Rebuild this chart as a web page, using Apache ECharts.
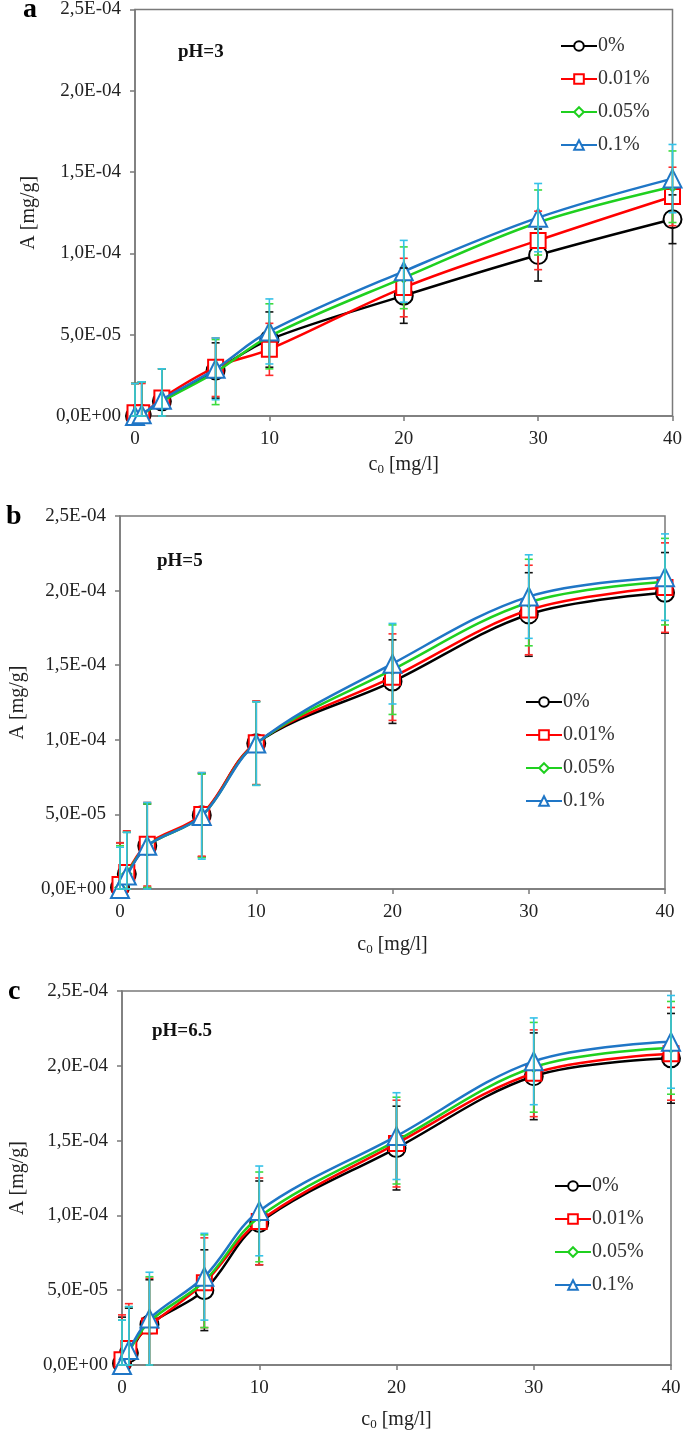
<!DOCTYPE html>
<html><head><meta charset="utf-8">
<script src="https://cdn.jsdelivr.net/npm/echarts@6/dist/echarts.min.js"></script>
<style>html,body{margin:0;padding:0;background:#fff}#c{width:685px;height:1432px}</style>
</head><body><div id="c"></div>
<script>
// ---------------- DATA ----------------
const c0 = [0, 0.5, 2, 6, 10, 20, 30, 40];               // initial concentration [mg/l]
const seriesNames = ['0%', '0.01%', '0.05%', '0.1%'];
const xTicks = [0, 10, 20, 30, 40];
const yTicks = [0, 5e-5, 1e-4, 1.5e-4, 2e-4, 2.5e-4];

// pH = 3
const pH3_0   = [0.00e-4, 0.01e-4, 0.09e-4, 0.28e-4, 0.47e-4, 0.74e-4, 0.99e-4, 1.21e-4];
const pH3_001 = [0.02e-4, 0.02e-4, 0.11e-4, 0.30e-4, 0.41e-4, 0.79e-4, 1.08e-4, 1.35e-4];
const pH3_005 = [0.00e-4, 0.01e-4, 0.09e-4, 0.27e-4, 0.49e-4, 0.85e-4, 1.19e-4, 1.41e-4];
const pH3_01  = [0.00e-4, 0.01e-4, 0.10e-4, 0.29e-4, 0.52e-4, 0.89e-4, 1.22e-4, 1.46e-4];
const err3_0   = [0.20e-4, 0.20e-4, 0.20e-4, 0.17e-4, 0.17e-4, 0.17e-4, 0.16e-4, 0.15e-4];
const err3_001 = [0.18e-4, 0.18e-4, 0.18e-4, 0.18e-4, 0.16e-4, 0.18e-4, 0.18e-4, 0.18e-4];
const err3_005 = [0.20e-4, 0.20e-4, 0.20e-4, 0.20e-4, 0.20e-4, 0.19e-4, 0.20e-4, 0.22e-4];
const err3_01  = [0.20e-4, 0.20e-4, 0.19e-4, 0.19e-4, 0.20e-4, 0.19e-4, 0.21e-4, 0.21e-4];

// pH = 5
const pH5_0   = [0.01e-4, 0.10e-4, 0.29e-4, 0.495e-4, 0.977e-4, 1.39e-4, 1.84e-4, 1.985e-4];
const pH5_001 = [0.03e-4, 0.11e-4, 0.30e-4, 0.50e-4, 0.98e-4, 1.42e-4, 1.87e-4, 2.02e-4];
const pH5_005 = [0.01e-4, 0.10e-4, 0.29e-4, 0.49e-4, 0.975e-4, 1.47e-4, 1.92e-4, 2.06e-4];
const pH5_01  = [0.00e-4, 0.09e-4, 0.29e-4, 0.49e-4, 0.975e-4, 1.51e-4, 1.96e-4, 2.09e-4];
const err5_0   = [0.30e-4, 0.28e-4, 0.28e-4, 0.28e-4, 0.28e-4, 0.28e-4, 0.28e-4, 0.27e-4];
const err5_001 = [0.28e-4, 0.28e-4, 0.28e-4, 0.28e-4, 0.28e-4, 0.29e-4, 0.30e-4, 0.30e-4];
const err5_005 = [0.28e-4, 0.28e-4, 0.28e-4, 0.28e-4, 0.28e-4, 0.30e-4, 0.29e-4, 0.29e-4];
const err5_01  = [0.28e-4, 0.29e-4, 0.29e-4, 0.29e-4, 0.28e-4, 0.27e-4, 0.28e-4, 0.29e-4];

// pH = 6.5
const pH65_0   = [0.01e-4, 0.08e-4, 0.27e-4, 0.50e-4, 0.95e-4, 1.45e-4, 1.93e-4, 2.05e-4];
const pH65_001 = [0.035e-4, 0.11e-4, 0.26e-4, 0.55e-4, 0.96e-4, 1.48e-4, 1.95e-4, 2.08e-4];
const pH65_005 = [0.00e-4, 0.09e-4, 0.29e-4, 0.56e-4, 0.99e-4, 1.50e-4, 1.99e-4, 2.12e-4];
const pH65_01  = [0.00e-4, 0.10e-4, 0.31e-4, 0.59e-4, 1.03e-4, 1.53e-4, 2.03e-4, 2.16e-4];
const err65_0   = [0.31e-4, 0.30e-4, 0.30e-4, 0.27e-4, 0.28e-4, 0.28e-4, 0.29e-4, 0.30e-4];
const err65_001 = [0.30e-4, 0.30e-4, 0.32e-4, 0.30e-4, 0.29e-4, 0.29e-4, 0.29e-4, 0.31e-4];
const err65_005 = [0.30e-4, 0.30e-4, 0.30e-4, 0.31e-4, 0.30e-4, 0.29e-4, 0.30e-4, 0.31e-4];
const err65_01  = [0.30e-4, 0.29e-4, 0.31e-4, 0.29e-4, 0.30e-4, 0.29e-4, 0.29e-4, 0.31e-4];

// ---------------- STYLE ----------------
const FONT = '"Liberation Serif", "Times New Roman", serif';
const lineColors = ['#000000', '#ff0000', '#1fd01f', '#1f76c6'];
const errColors  = ['#111111', '#ff2a2a', '#3ddc3d', '#36c2e8'];
const symbols = ['emptyCircle', 'emptyRect', 'emptyDiamond', 'emptyTriangle'];
const symbolSizes = [18, 15, 9, 18];

const panels = [
  { vals: [pH3_0, pH3_001, pH3_005, pH3_01], errs: [err3_0, err3_001, err3_005, err3_01],
    grid: { left: 135, top: 6, width: 538, height: 410 }, label: 'pH=3', letter: 'a',
    letterPos: [23, -4], phPos: [178, 43], legend: { left: 555, top: 31 }, nameGapX: 38, nameGapY: 96 },
  { vals: [pH5_0, pH5_001, pH5_005, pH5_01], errs: [err5_0, err5_001, err5_005, err5_01],
    grid: { left: 107, top: 516, width: 558, height: 373 }, label: 'pH=5', letter: 'b',
    letterPos: [6, 503], phPos: [157, 552], legend: { left: 520, top: 687 }, nameGapX: 45, nameGapY: 92 },
  { vals: [pH65_0, pH65_001, pH65_005, pH65_01], errs: [err65_0, err65_001, err65_005, err65_01],
    grid: { left: 115, top: 991, width: 556, height: 378 }, label: 'pH=6.5', letter: 'c',
    letterPos: [8, 978], phPos: [152, 1022], legend: { left: 549, top: 1171 }, nameGapX: 44, nameGapY: 94 }
];

function fmtE(v) {
  if (Math.abs(v) < 1e-12) return '0,0E+00';
  const s = v.toExponential(1);
  const parts = s.split('e');
  const e = parseInt(parts[1], 10);
  return parts[0].replace('.', ',') + 'E' + (e < 0 ? '-' : '+') + String(Math.abs(e)).padStart(2, '0');
}

function errRender(color) {
  return function (params, api) {
    const x = api.value(0), y = api.value(1), e = api.value(2);
    const top = api.coord([x, y + e]);
    const bot = api.coord([x, Math.max(0, y - e)]);
    const w = 4;
    const st = { stroke: color, lineWidth: 1.6 };
    return {
      type: 'group',
      children: [
        { type: 'line', shape: { x1: top[0], y1: top[1], x2: bot[0], y2: bot[1] }, style: st },
        { type: 'line', shape: { x1: top[0] - w, y1: top[1], x2: top[0] + w, y2: top[1] }, style: st },
        { type: 'line', shape: { x1: bot[0] - w, y1: bot[1], x2: bot[0] + w, y2: bot[1] }, style: st }
      ]
    };
  };
}

const option = {
  backgroundColor: '#ffffff',
  animation: false,
  textStyle: { fontFamily: FONT },
  grid: [], xAxis: [], yAxis: [], series: [], legend: [], graphic: []
};

panels.forEach((p, pi) => {
  option.grid.push(Object.assign({ show: true, borderColor: '#7a7a7a', borderWidth: 1.5, backgroundColor: 'transparent', containLabel: false }, p.grid));
  option.xAxis.push({
    type: 'value', gridIndex: pi, min: xTicks[0], max: xTicks[xTicks.length - 1], interval: xTicks[1] - xTicks[0],
    name: 'c{s|0} [mg/l]', nameLocation: 'middle', nameGap: p.nameGapX,
    nameTextStyle: { fontFamily: FONT, fontSize: 20, color: '#222', rich: { s: { fontFamily: FONT, fontSize: 13, color: '#222', padding: [9, 0, 0, 0] } } },
    axisLine: { onZero: false, lineStyle: { color: '#7a7a7a', width: 1.5 } },
    axisTick: { inside: false, length: 5, lineStyle: { color: '#7a7a7a', width: 1.5 } },
    axisLabel: { fontFamily: FONT, fontSize: 19, color: '#222', margin: 14 },
    splitLine: { show: false }
  });
  option.yAxis.push({
    type: 'value', gridIndex: pi, min: yTicks[0], max: yTicks[yTicks.length - 1], interval: yTicks[1] - yTicks[0],
    name: 'A [mg/g]', nameLocation: 'middle', nameRotate: 90, nameGap: p.nameGapY,
    nameTextStyle: { fontFamily: FONT, fontSize: 20, color: '#222' },
    axisLine: { onZero: false, lineStyle: { color: '#7a7a7a', width: 1.5 } },
    axisTick: { inside: false, length: 5, lineStyle: { color: '#7a7a7a', width: 1.5 } },
    axisLabel: { fontFamily: FONT, fontSize: 19, color: '#222', margin: 14, formatter: fmtE },
    splitLine: { show: false }
  });
  p.vals.forEach((vals, si) => {
    option.series.push({
      type: 'line', name: seriesNames[si], xAxisIndex: pi, yAxisIndex: pi,
      data: c0.map((x, i) => [x, vals[i]]),
      smooth: 0.35, clip: false,
      symbol: symbols[si], symbolSize: symbolSizes[si],
      lineStyle: { color: lineColors[si], width: 2.5 },
      itemStyle: { color: lineColors[si], borderColor: lineColors[si], borderWidth: 2.5 },
      z: 3 + si
    });
  });
  p.vals.forEach((vals, si) => {
    option.series.push({
      type: 'custom', name: seriesNames[si] + ' err', xAxisIndex: pi, yAxisIndex: pi,
      data: c0.map((x, i) => [x, vals[i], p.errs[si][i]]),
      renderItem: errRender(errColors[si]), clip: false,
      encode: { x: 0, y: 1 }, z: 10 + si, silent: true
    });
  });
  option.legend.push({
    orient: 'vertical', left: p.legend.left, top: p.legend.top,
    data: seriesNames, itemWidth: 36, itemHeight: 12, itemGap: 13,
    textStyle: { fontFamily: FONT, fontSize: 20, color: '#333', lineHeight: 20, padding: [0, 0, 0, -4] }
  });
  option.graphic.push({
    type: 'text', left: p.letterPos[0], top: p.letterPos[1],
    style: { text: p.letter, font: 'bold 28px ' + FONT, fill: '#000' }
  });
  option.graphic.push({
    type: 'text', left: p.phPos[0], top: p.phPos[1],
    style: { text: p.label, font: 'bold 19px ' + FONT, fill: '#111' }
  });
});

const chart = echarts.init(document.getElementById('c'), null, { renderer: 'canvas' });
chart.setOption(option);
</script></body></html>
